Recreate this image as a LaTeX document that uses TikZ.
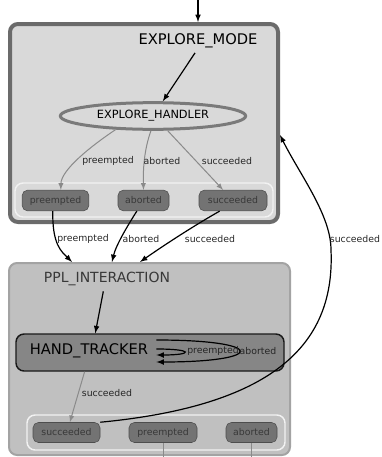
\documentclass[tikz,border=0pt]{standalone}
\usepackage{fontspec}
\setmainfont{DejaVu Sans}
\usetikzlibrary{shapes.geometric}

\definecolor{explorefill}{HTML}{D9D9D9}
\definecolor{exploreborder}{HTML}{6B6B6B}
\definecolor{handlerborder}{HTML}{7A7A7A}
\definecolor{pplfill}{HTML}{C0C0C0}
\definecolor{pplborder}{HTML}{A3A3A3}
\definecolor{trackerfill}{HTML}{868686}
\definecolor{outfill}{HTML}{737373}
\definecolor{outborder}{HTML}{4D4D4D}
\definecolor{outtext}{HTML}{383838}
\definecolor{graylink}{HTML}{8A8A8A}

\begin{document}
\begin{tikzpicture}[x=0.75pt, y=-0.75pt,
    container/.style={rectangle, draw, rounded corners=6pt, inner sep=0pt},
    outbox/.style={rectangle, draw=white!95!black, line width=1.1pt, rounded corners=6pt, minimum width=193.5pt},
    outcome/.style={rectangle, draw=outborder, fill=outfill, text=outtext, rounded corners=4pt, inner sep=0pt, minimum height=15.5pt, font=\fontsize{7}{8}\selectfont},
    title/.style={inner sep=0pt, font=\fontsize{11}{13}\selectfont},
    lbl/.style={inner sep=0pt, text=black!85, font=\fontsize{7}{8}\selectfont},
    arrow/.style={->, line width=0.9pt, >=latex},
    grayarrow/.style={->, draw=graylink, line width=0.75pt, >=latex}
]
\useasboundingbox (0,0) rectangle (382,457);

% Stato EXPLORE_MODE
\node[container, draw=exploreborder, line width=3pt, fill=explorefill, minimum width=201pt, minimum height=148.5pt] (explore) at (144,123) {};
\node[title] (exploretitle) at (198,41) {EXPLORE\_MODE};
\node[ellipse, draw=handlerborder, line width=2.25pt, fill=explorefill, inner sep=0pt, minimum width=139pt, minimum height=20pt, font=\fontsize{8.5}{10}\selectfont] (handler) at (153,116) {EXPLORE\_HANDLER};
\node[outbox, fill=explorefill, minimum height=25.5pt] (exploreout) at (144,200) {};
\node[outcome, minimum width=50pt] (o1pre) at (55.5,200.5) {preempted};
\node[outcome, minimum width=38.25pt] (o1abo) at (143.5,200.5) {aborted};
\node[outcome, minimum width=51pt] (o1suc) at (233,200.5) {succeeded};

% Stato PPL_INTERACTION
\node[container, draw=pplborder, line width=1.5pt, fill=pplfill, minimum width=210.75pt, minimum height=144pt] (ppl) at (149.5,359) {};
\node[title, text=black!78, font=\fontsize{10.5}{12}\selectfont] (ppltitle) at (107,279) {PPL\_INTERACTION};
\node[container, draw=black!90, line width=1.1pt, fill=trackerfill, minimum width=201pt, minimum height=27.75pt] (tracker) at (150,352.5) {};
\node[title] (trackerlbl) at (89,351) {HAND\_TRACKER};
\node[outbox, fill=pplfill, minimum height=26.25pt] (pplout) at (156,432.5) {};
\node[outcome, minimum width=50.25pt, minimum height=15pt] (o2suc) at (66.5,432.5) {succeeded};
\node[outcome, minimum width=51pt, minimum height=15pt] (o2pre) at (163,432.5) {preempted};
\node[outcome, minimum width=38.25pt, minimum height=15pt] (o2abo) at (251.5,432.5) {aborted};

% Ingresso e uscite libere
\coordinate (entry) at (198,0);
\coordinate (preexit) at (163,457);
\coordinate (aboexit) at (251.5,457);

% Connessioni
\draw[arrow] (entry) -- (explore.north -| entry);
\draw[arrow, shorten <=4pt] (exploretitle.south) -- (handler);
\draw[grayarrow] (handler.200) .. controls (91,146) and (61,170) .. ([xshift=4pt]o1pre.north);
\draw[grayarrow] (handler.262) .. controls (144,150) and (143,170) .. (o1abo.north);
\draw[grayarrow] (handler.315) -- (o1suc);
\draw[arrow] ([xshift=-2pt]o1pre.south) .. controls (52,245) and (62,252) .. ([xshift=48pt]ppl.north west);
\draw[arrow] ([xshift=-5pt]o1abo.south) .. controls (128,225) and (116,245) .. ([xshift=78pt]ppl.north west);
\draw[arrow] ([xshift=-10pt]o1suc.south) .. controls (190,228) and (160,248) .. ([xshift=99pt]ppl.north west);
\draw[arrow, shorten <=4pt] ([xshift=-2pt]ppltitle.south) -- ([xshift=60pt]tracker.north west);
\draw[arrow] ([xshift=6pt,yshift=8.25pt]trackerlbl.east) .. controls +(83pt,0) and +(83pt,0) .. ([xshift=6pt,yshift=-8.25pt]trackerlbl.east);
\draw[arrow] ([xshift=6pt,yshift=1.5pt]trackerlbl.east) .. controls +(28pt,0) and +(28pt,0) .. ([xshift=6pt,yshift=-3pt]trackerlbl.east);
\draw[grayarrow] ([xshift=52pt]tracker.south west) -- ([xshift=2.5pt]o2suc.north);
\draw[arrow] (o2suc.north east) .. controls (280,405) and (335,340) .. (331,250) .. controls (331,215) and (300,175) .. ([yshift=-9pt]explore.east);
\draw[draw=graylink, line width=0.75pt] (o2pre) -- (preexit);
\draw[draw=graylink, line width=0.75pt] (o2abo) -- (aboexit);

% Etichette delle connessioni
\node[lbl] (l1pre) at (108,161) {preempted};
\node[lbl] (l1abo) at (162,161) {aborted};
\node[lbl] (l1suc) at (227,161) {succeeded};
\node[lbl] (l2pre) at (83,239) {preempted};
\node[lbl] (l2abo) at (141,239) {aborted};
\node[lbl] (l2suc) at (210,239) {succeeded};
\node[lbl] (l3pre) at (213,351) {preempted};
\node[lbl] (l3abo) at (258,351) {aborted};
\node[lbl] (l3suc) at (107,393) {succeeded};
\node[lbl] (l4suc) at (355,239) {succeeded};
\end{tikzpicture}
\end{document}
